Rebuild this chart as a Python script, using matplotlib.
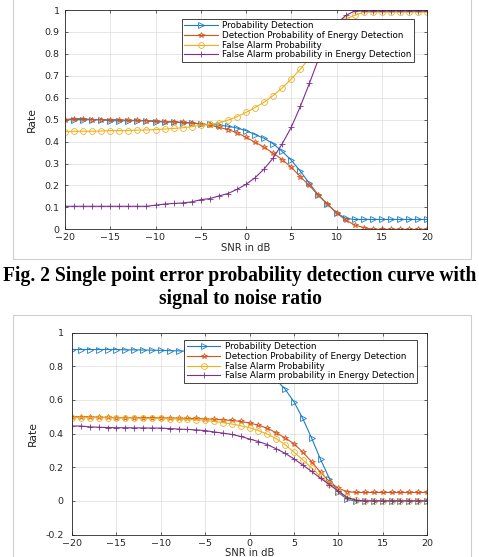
"""Two MATLAB-style detection curves vs SNR with a figure caption in between."""

import numpy as np
import matplotlib
matplotlib.use("Agg")
import matplotlib.pyplot as plt
from matplotlib.patches import Rectangle

snr_db = np.arange(-20, 21)

labels = [
    "Probability Detection",
    "Detection Probability of Energy Detection",
    "False Alarm Probability",
    "False Alarm probability in Energy Detection",
]

# Fig. 2 (top panel)
top_pd = [0.50, 0.50, 0.50, 0.50, 0.50, 0.495, 0.495, 0.495, 0.495, 0.495, 0.49, 0.49, 0.49,
          0.485, 0.485, 0.48, 0.478,
          0.475, 0.47, 0.462, 0.45, 0.432, 0.415, 0.39, 0.355, 0.315, 0.265, 0.21, 0.155,
          0.115, 0.075, 0.05, 0.045,
          0.045, 0.045, 0.045, 0.045, 0.045, 0.045, 0.045, 0.045]
top_pd_ed = [0.50, 0.505, 0.505, 0.50, 0.50, 0.50, 0.50, 0.497, 0.497, 0.495, 0.495, 0.49,
             0.49, 0.488, 0.485, 0.48,
             0.475, 0.465, 0.455, 0.44, 0.42, 0.397, 0.375, 0.347, 0.318, 0.283, 0.24, 0.20,
             0.155, 0.115, 0.075, 0.042, 0.02, 0.008, 0.0,
             0.0, 0.0, 0.0, 0.0, 0.0, 0.0]
top_pfa = [0.445, 0.447, 0.447, 0.447, 0.448, 0.45, 0.45, 0.45, 0.452, 0.453, 0.455, 0.457,
           0.46, 0.463, 0.468,
           0.475, 0.478, 0.485, 0.498, 0.513, 0.533, 0.555, 0.58, 0.61, 0.645, 0.685, 0.73,
           0.78, 0.835, 0.89, 0.935, 0.96, 0.975,
           0.99, 0.99, 0.99, 0.99, 0.99, 0.99, 0.99, 0.99]
top_pfa_ed = [0.105, 0.105, 0.105, 0.105, 0.105, 0.105, 0.105, 0.105, 0.105, 0.105,
              0.11, 0.115, 0.118, 0.12, 0.125, 0.135, 0.14, 0.152, 0.163, 0.182, 0.205,
              0.235, 0.275, 0.325, 0.39, 0.465, 0.56, 0.665, 0.775, 0.87, 0.935, 0.975, 0.995,
              0.995, 0.995, 0.995, 0.995, 0.995, 0.995, 0.995, 0.995]

# second panel
bot_pd = [0.90, 0.90, 0.90, 0.90, 0.90, 0.90, 0.898, 0.898, 0.897, 0.896, 0.895, 0.893, 0.892,
          0.89, 0.888, 0.885, 0.88, 0.875, 0.865, 0.85, 0.835, 0.81, 0.775, 0.72, 0.665, 0.59,
          0.49, 0.373, 0.247, 0.133, 0.05, 0.01, -0.003,
          0.0, 0.0, 0.0, 0.0, 0.0, 0.0, 0.0, 0.0]
bot_pd_ed = [0.50, 0.50, 0.50, 0.497, 0.497, 0.495, 0.495, 0.495, 0.495, 0.495, 0.493, 0.493,
             0.492, 0.49, 0.49, 0.488,
             0.485, 0.482, 0.478, 0.472, 0.463, 0.45, 0.432, 0.405, 0.375, 0.34, 0.29, 0.233,
             0.17, 0.115, 0.075, 0.055, 0.05,
             0.05, 0.05, 0.05, 0.05, 0.05, 0.05, 0.05, 0.05]
bot_pfa = [0.495, 0.495, 0.495, 0.495, 0.495, 0.493, 0.493, 0.493, 0.49, 0.49, 0.49, 0.488,
           0.487, 0.485, 0.482, 0.478,
           0.472, 0.465, 0.457, 0.447, 0.435, 0.418, 0.397, 0.37, 0.335, 0.29, 0.245, 0.195,
           0.145, 0.10, 0.06, 0.022, 0.005,
           0.0, 0.0, 0.0, 0.0, 0.0, 0.0, 0.0, 0.0]
bot_pfa_ed = [0.445, 0.445, 0.44, 0.438, 0.436, 0.435, 0.435, 0.434, 0.434, 0.433,
              0.433, 0.43, 0.427, 0.425, 0.422, 0.418, 0.41, 0.403, 0.395, 0.383, 0.368,
              0.353, 0.335, 0.31, 0.283, 0.25, 0.213, 0.175, 0.135, 0.097, 0.058, 0.02, 0.004,
              0.0, 0.0, 0.0, 0.0, 0.0, 0.0, 0.0, 0.0]

caption = ["Fig. 2 Single point error probability detection curve with",
           "signal to noise ratio"]

colors = ["#1a7fc6", "#D95319", "#EDB120", "#7E2F8E"]
markers = [">", "*", "o", "+"]

W, H = 479, 557


def fig_box(left, top, right, bottom):
    """Pixel box (from top-left) to figure fraction rect."""
    return [left / W, 1 - bottom / H, (right - left) / W, (bottom - top) / H]


def matlab_axes(ax, series, yticks, ylim, legend_anchor, ypad, xlabelpad):
    for vals, label, col, mk in zip(series, labels, colors, markers):
        ax.plot(snr_db, vals, color=col, marker=mk, markersize=4.2, lw=0.8,
                markerfacecolor="none", markeredgewidth=0.6, label=label)
    ax.set_xlim(-20, 20)
    ax.set_ylim(*ylim)
    ax.set_xticks(range(-20, 21, 5))
    ax.set_yticks(yticks)
    ax.set_yticklabels([f"{t:g}" for t in yticks])
    ax.grid(True, color="#dcdcdc", lw=0.5)
    ax.set_axisbelow(True)
    ax.tick_params(direction="in", length=2.5, width=0.5, labelsize=6.8,
                   colors="#262626", top=True, right=True)
    ax.tick_params(axis="y", pad=ypad)
    ax.tick_params(axis="x", pad=3)
    for sp in ax.spines.values():
        sp.set_color("#262626")
        sp.set_linewidth(0.6)
    ax.set_xlabel("SNR in dB", fontsize=7.2, color="#262626", labelpad=xlabelpad)
    ax.set_ylabel("Rate", fontsize=7.8, color="#262626", labelpad=5)
    leg = ax.legend(loc="upper right", bbox_to_anchor=legend_anchor, fontsize=6.3,
                    fancybox=False, framealpha=1, edgecolor="#262626",
                    handlelength=3.8, borderpad=0.3, labelspacing=0.08,
                    handletextpad=0.55, borderaxespad=0)
    leg.get_frame().set_linewidth(0.6)


fig = plt.figure(figsize=(W / 100, H / 100), dpi=100)

# light frames around the two pasted figures
fig.add_artist(Rectangle((12.5 / W, 1 - 259 / H), 458.5 / W, 259 / H + 0.01,
                         transform=fig.transFigure, fill=False, ec="#cfcfcf", lw=0.8))
fig.add_artist(Rectangle((12.5 / W, -0.01), 458.5 / W, 1 - 315 / H + 0.01,
                         transform=fig.transFigure, fill=False, ec="#cfcfcf", lw=0.8))

ax1 = fig.add_axes(fig_box(65, 10, 427, 229.3))
matlab_axes(ax1, [top_pd, top_pd_ed, top_pfa, top_pfa_ed],
            [round(0.1 * i, 1) for i in range(11)], (0, 1), (0.965, 0.96), 4, 0.5)

ax2 = fig.add_axes(fig_box(72, 332.7, 427, 534.5))
matlab_axes(ax2, [bot_pd, bot_pd_ed, bot_pfa, bot_pfa_ed],
            [-0.2, 0, 0.2, 0.4, 0.6, 0.8, 1], (-0.2, 1), (0.972, 0.966), 6, 0)

fig.text(240 / W, 1 - 276 / H, caption[0], ha="center", va="center",
         family="Liberation Serif", weight="bold", fontsize=14.1)
fig.text(240 / W, 1 - 299 / H, caption[1], ha="center", va="center",
         family="Liberation Serif", weight="bold", fontsize=14.1)

fig.savefig("out.png", dpi=100)
